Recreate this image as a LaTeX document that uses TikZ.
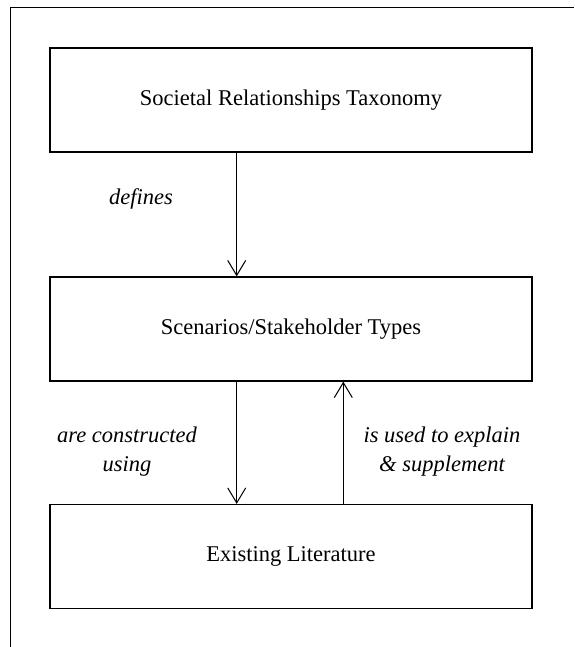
\documentclass[tikz,border=0pt]{standalone}
\usepackage{fontspec}
\setmainfont{Liberation Serif}
\usetikzlibrary{arrows.meta}
\begin{document}
\begin{tikzpicture}[x=1pt,y=-1pt,
  boxnode/.style={draw=black,line width=1.3pt,minimum width=482pt,minimum height=104pt,inner sep=0pt,font=\fontsize{22.5}{26}\selectfont},
  lbl/.style={font=\fontsize{22.5}{29}\selectfont\itshape,align=center,inner sep=0pt},
  conn/.style={line width=1pt,-{Straight Barb[length=15pt,width=18pt,line width=1pt]}}]
\useasboundingbox (0,0) rectangle (574,647);
\coordinate (ftl) at (10.5,7.5);
\coordinate (ftr) at (574,7.5);
\coordinate (fbl) at (10.5,647);
\draw[line width=1pt] (fbl) -- (ftl) -- (ftr);
\node[boxnode] (tax) at (291,100) {Societal Relationships Taxonomy};
\node[boxnode] (scen) at (291,329) {Scenarios/Stakeholder Types};
\node[boxnode] (lit) at (291,556.5) {Existing Literature};
\draw[conn] (tax.south -| 236.7,0) -- (scen.north -| 236.7,0);
\draw[conn] (scen.south -| 236.7,0) -- (lit.north -| 236.7,0);
\draw[conn] (lit.north -| 343.3,0) -- (scen.south -| 343.3,0);
\node[lbl] (ldef) at (141,199) {defines};
\node[lbl] (lcon) at (127,452) {are constructed\\using};
\node[lbl] (luse) at (442,452) {is used to explain\\\& supplement};
\end{tikzpicture}
\end{document}
